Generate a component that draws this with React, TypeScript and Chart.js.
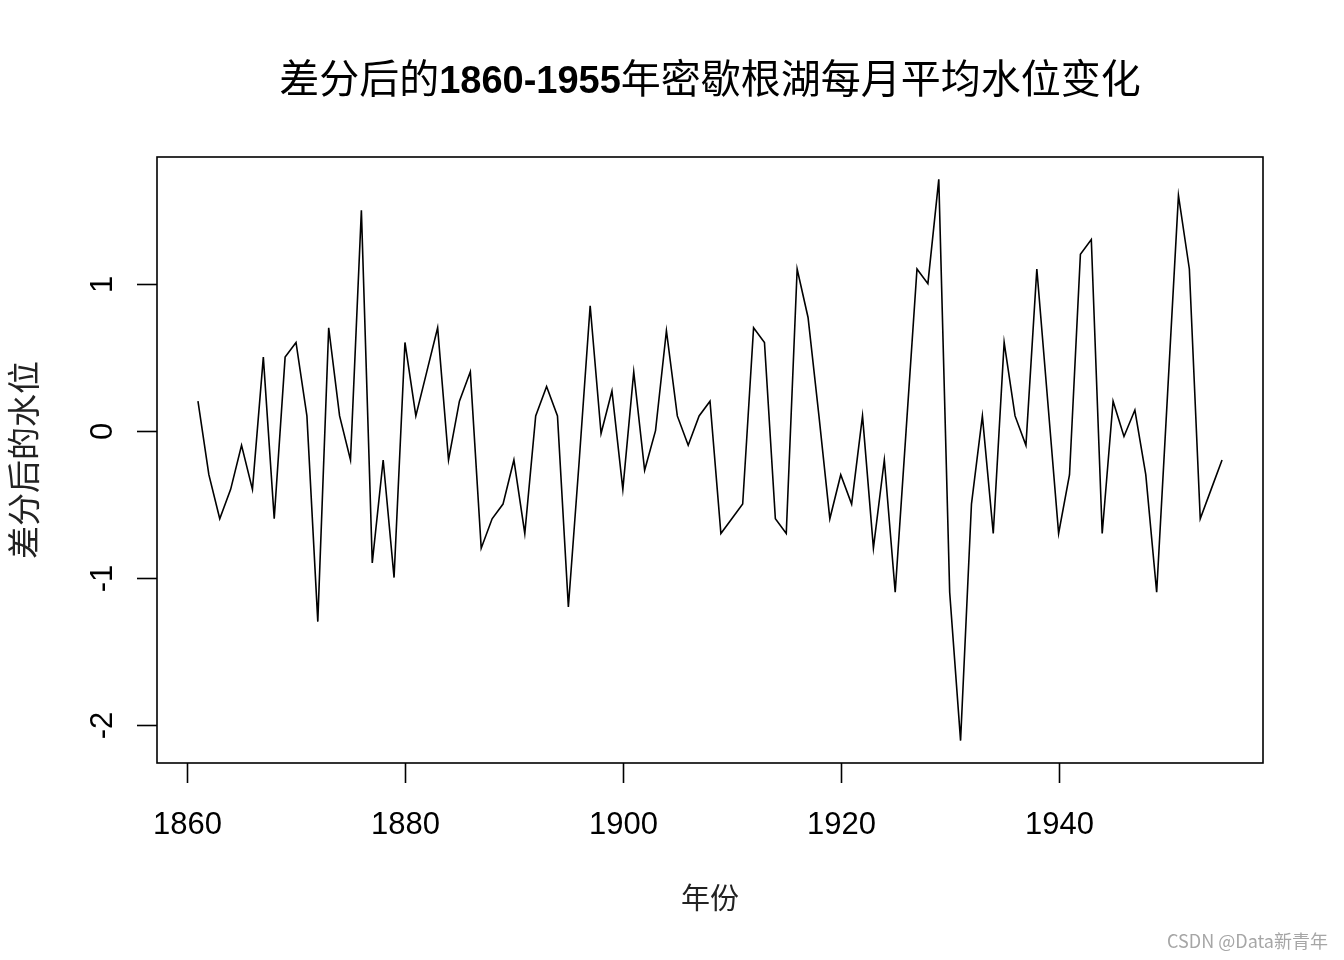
import React, { useEffect, useRef } from "react";
import { Chart, registerables } from "chart.js";

Chart.register(...registerables);

const YEARS = [
  1861, 1862, 1863, 1864, 1865, 1866, 1867, 1868, 1869, 1870,
  1871, 1872, 1873, 1874, 1875, 1876, 1877, 1878, 1879, 1880,
  1881, 1882, 1883, 1884, 1885, 1886, 1887, 1888, 1889, 1890,
  1891, 1892, 1893, 1894, 1895, 1896, 1897, 1898, 1899, 1900,
  1901, 1902, 1903, 1904, 1905, 1906, 1907, 1908, 1909, 1910,
  1911, 1912, 1913, 1914, 1915, 1916, 1917, 1918, 1919, 1920,
  1921, 1922, 1923, 1924, 1925, 1926, 1927, 1928, 1929, 1930,
  1931, 1932, 1933, 1934, 1935, 1936, 1937, 1938, 1939, 1940,
  1941, 1942, 1943, 1944, 1945, 1946, 1947, 1948, 1949, 1950,
  1951, 1952, 1953, 1954, 1955,
];

const DIFF_LEVEL = [
  0.2, -0.3, -0.6, -0.4, -0.1, -0.4, 0.5, -0.6, 0.5, 0.6,
  0.1, -1.3, 0.7, 0.1, -0.2, 1.5, -0.9, -0.2, -1.0, 0.6,
  0.1, 0.4, 0.7, -0.2, 0.2, 0.4, -0.8, -0.6, -0.5, -0.2,
  -0.7, 0.1, 0.3, 0.1, -1.2, -0.2, 0.85, -0.02, 0.27, -0.4,
  0.4, -0.27, 0.0, 0.68, 0.1, -0.1, 0.1, 0.2, -0.7, -0.6,
  -0.5, 0.7, 0.6, -0.6, -0.7, 1.1, 0.77, 0.1, -0.6, -0.3,
  -0.5, 0.1, -0.8, -0.2, -1.1, 0.0, 1.1, 1.0, 1.71, -1.1,
  -2.11, -0.5, 0.1, -0.7, 0.6, 0.1, -0.1, 1.1, 0.2, -0.7,
  -0.3, 1.2, 1.3, -0.7, 0.2, -0.04, 0.14, -0.3, -1.1, 0.25,
  1.6, 1.1, -0.6, -0.4, -0.2,
];

const X_TICKS = [1860, 1880, 1900, 1920, 1940];
const Y_TICKS = [-2, -1, 0, 1];

const TITLE_PARTS = ["差分后的", "1860-1955", "年密歇根湖每月平均水位变化"];
const X_TITLE = "年份";
const Y_TITLE = "差分后的水位";
const WATERMARK = "CSDN @Data新青年";

const CJK = '"Noto Sans CJK SC", sans-serif';
const LATIN = '"Liberation Sans", Arial, sans-serif';

const rDecor = {
  id: "rDecor",
  afterDraw(chart: any) {
    const ctx = chart.ctx as CanvasRenderingContext2D;
    const area = chart.chartArea;
    const xs = chart.scales.x;
    const ys = chart.scales.y;
    ctx.save();
    ctx.strokeStyle = "#000";
    ctx.fillStyle = "#000";
    ctx.lineWidth = 1.6;
    // box
    ctx.strokeRect(area.left, area.top, area.right - area.left, area.bottom - area.top);

    // x ticks
    ctx.font = `31px ${LATIN}`;
    ctx.textAlign = "center";
    ctx.textBaseline = "alphabetic";
    for (const t of X_TICKS) {
      const px = Math.round(xs.getPixelForValue(t)) + 0.5;
      ctx.beginPath();
      ctx.moveTo(px, area.bottom);
      ctx.lineTo(px, area.bottom + 20);
      ctx.stroke();
      ctx.fillText(String(t), px, 834);
    }
    // y ticks
    for (const t of Y_TICKS) {
      const py = Math.round(ys.getPixelForValue(t)) + 0.5;
      ctx.beginPath();
      ctx.moveTo(area.left, py);
      ctx.lineTo(area.left - 20, py);
      ctx.stroke();
      ctx.save();
      ctx.translate(112, py);
      ctx.rotate(-Math.PI / 2);
      ctx.fillText(String(t), 0, 0);
      ctx.restore();
    }

    // title with mixed fonts
    const fonts = [`40px ${CJK}`, `bold 38px ${LATIN}`, `40px ${CJK}`];
    let total = 0;
    const widths: number[] = [];
    TITLE_PARTS.forEach((p, i) => {
      ctx.font = fonts[i];
      const w = ctx.measureText(p).width;
      widths.push(w);
      total += w;
    });
    const cx = (area.left + area.right) / 2;
    let x = cx - total / 2;
    ctx.textAlign = "left";
    ctx.textBaseline = "alphabetic";
    ctx.fillStyle = "#000";
    TITLE_PARTS.forEach((p, i) => {
      ctx.font = fonts[i];
      ctx.fillText(p, x, 93);
      x += widths[i];
    });

    // axis titles
    ctx.fillStyle = "#222";
    ctx.textAlign = "center";
    ctx.textBaseline = "middle";
    ctx.font = `29px ${CJK}`;
    ctx.fillText(X_TITLE, cx, 898);
    ctx.save();
    ctx.translate(23, (area.top + area.bottom) / 2);
    ctx.rotate(-Math.PI / 2);
    ctx.font = `33px ${CJK}`;
    ctx.fillText(Y_TITLE, 0, 0);
    ctx.restore();

    // watermark
    ctx.fillStyle = "#a6a6a6";
    ctx.textAlign = "right";
    ctx.textBaseline = "alphabetic";
    ctx.font = `18px ${CJK}`;
    ctx.fillText(WATERMARK, 1328, 948);
    ctx.restore();
  },
};

export default function App() {
  const ref = useRef<HTMLCanvasElement | null>(null);
  useEffect(() => {
    if (!ref.current) return;
    const chart = new Chart(ref.current, {
      type: "line",
      data: {
        datasets: [
          {
            data: YEARS.map((yr, i) => ({ x: yr, y: DIFF_LEVEL[i] })),
            borderColor: "#000",
            borderWidth: 1.6,
            pointRadius: 0,
            tension: 0,
            fill: false,
          },
        ],
      },
      options: {
        responsive: false,
        animation: false,
        devicePixelRatio: 1,
        layout: { padding: { left: 157, top: 157, right: 81, bottom: 197 } },
        plugins: { legend: { display: false }, title: { display: false }, tooltip: { enabled: false } },
        scales: {
          x: { type: "linear", min: 1857.24, max: 1958.76, display: false },
          y: { type: "linear", min: -2.262, max: 1.862, display: false },
        },
      },
      plugins: [rDecor],
    });
    return () => chart.destroy();
  }, []);
  return (
    <div style={{ position: "fixed", left: 0, top: 0, width: 1344, height: 960, background: "#fff" }}>
      <canvas ref={ref} width={1344} height={960} style={{ width: 1344, height: 960, display: "block" }} />
    </div>
  );
}
